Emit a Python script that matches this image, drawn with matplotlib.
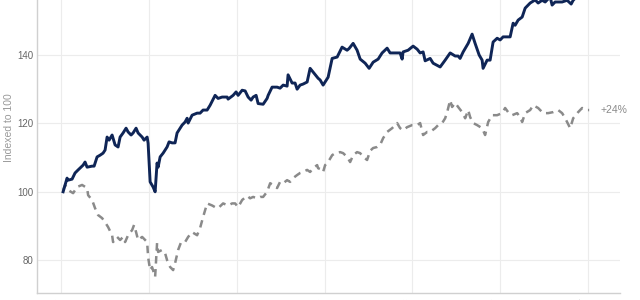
import numpy as np
import matplotlib
matplotlib.use("Agg")
import matplotlib.pyplot as plt

plt.rcParams['font.family'] = ['Liberation Sans', 'DejaVu Sans']

# time in years since start of 2019, values indexed to 100
blue_t = [0.023, 0.068, 0.080, 0.125, 0.159, 0.194, 0.251, 0.273, 0.296, 0.353, 0.376, 0.410,
          0.444, 0.478, 0.501, 0.524, 0.547, 0.581, 0.615, 0.649, 0.672, 0.706, 0.740, 0.763,
          0.797, 0.820, 0.854, 0.877, 0.923, 0.945, 0.980, 0.991, 1.014, 1.048, 1.071, 1.093,
          1.105, 1.128, 1.162, 1.207, 1.230, 1.264, 1.298, 1.321, 1.378, 1.412, 1.435, 1.447,
          1.492, 1.549, 1.583, 1.617, 1.663, 1.697, 1.754, 1.788, 1.834, 1.891, 1.902, 1.959,
          1.993, 2.016, 2.062, 2.096, 2.130, 2.164, 2.187, 2.221, 2.244, 2.301, 2.346, 2.358,
          2.403, 2.460, 2.494, 2.529, 2.574, 2.585, 2.631, 2.665, 2.688, 2.722, 2.756, 2.802,
          2.836, 2.870, 2.927, 2.950, 2.984, 3.041, 3.087, 3.144, 3.200, 3.257, 3.280, 3.326,
          3.371, 3.406, 3.463, 3.508, 3.554, 3.611, 3.656, 3.713, 3.747, 3.804, 3.861, 3.884,
          3.895, 3.952, 4.009, 4.055, 4.089, 4.123, 4.146, 4.203, 4.237, 4.282, 4.317, 4.374,
          4.431, 4.488, 4.522, 4.544, 4.579, 4.636, 4.681, 4.715, 4.761, 4.795, 4.806, 4.852,
          4.886, 4.920, 4.966, 5.000, 5.034, 5.057, 5.114, 5.148, 5.171, 5.205, 5.251, 5.285,
          5.342, 5.399, 5.433, 5.478, 5.513, 5.569, 5.592, 5.626, 5.706, 5.763, 5.809, 5.832,
          5.889, 5.945, 6.014]
blue_v = [100, 104, 103.4, 103.7, 105.5, 106.4, 107.8, 108.7, 107.2, 107.5, 107.5, 110.2,
          110.7, 111.3, 112.2, 116, 115.1, 116.6, 113.7, 113.1, 116, 117.2, 118.6, 117.5,
          116.6, 117.2, 118.6, 117.2, 116, 115.1, 116, 114.2, 102.9, 101.4, 100, 108.4,
          107.2, 110.2, 111.3, 113.1, 114.6, 114.3, 114.3, 117.2, 119.5, 120.4, 121.5, 120.1,
          122.4, 123, 123, 123.9, 123.9, 125.3, 128.2, 127.3, 127.7, 127.7, 127.1, 128.2,
          129.2, 128.2, 129.7, 129.5, 127.7, 126.8, 127.7, 128.2, 125.8, 125.6, 127.3, 128.2,
          130.6, 130.6, 130.3, 131.2, 130.9, 134.2, 131.8, 131.8, 130, 131.2, 131.5, 132.1,
          136.1, 135, 133.2, 132.7, 131.2, 133.5, 139, 139.4, 142.3, 141.4, 141.9, 143.4,
          141.4, 138.8, 137.6, 136.1, 137.9, 138.8, 140.6, 142, 140.6, 140.6, 140.6, 138.8,
          140.9, 141.4, 142.6, 141.7, 140.6, 140.9, 138.3, 139, 137.6, 137, 136.5, 138.5,
          140.6, 139.7, 139.7, 139, 140.9, 143.4, 146.1, 143.4, 140, 138.5, 136.1, 138.5,
          138.5, 143.8, 144.9, 144.4, 145.3, 145.3, 145.3, 149.3, 148.7, 150.2, 151.1, 153.7,
          155.2, 156.1, 155.2, 156, 155.5, 157, 154.6, 155.5, 155.5, 156, 154.9, 156,
          157.5, 158.5, 159]

grey_t = [0.023, 0.046, 0.080, 0.137, 0.182, 0.239, 0.296, 0.308, 0.353, 0.387, 0.421, 0.467,
          0.501, 0.535, 0.581, 0.592, 0.638, 0.672, 0.706, 0.729, 0.763, 0.809, 0.831, 0.854,
          0.877, 0.923, 0.957, 0.980, 0.991, 1.014, 1.036, 1.071, 1.082, 1.093, 1.105, 1.150,
          1.185, 1.207, 1.242, 1.276, 1.298, 1.333, 1.367, 1.412, 1.447, 1.492, 1.549, 1.583,
          1.617, 1.663, 1.720, 1.754, 1.788, 1.845, 1.902, 1.948, 1.982, 2.016, 2.062, 2.119,
          2.153, 2.187, 2.232, 2.267, 2.301, 2.346, 2.381, 2.415, 2.460, 2.494, 2.529, 2.574,
          2.608, 2.642, 2.688, 2.722, 2.756, 2.802, 2.836, 2.870, 2.916, 2.927, 2.973, 2.984,
          3.007, 3.041, 3.087, 3.121, 3.178, 3.212, 3.257, 3.292, 3.326, 3.371, 3.406, 3.440,
          3.485, 3.520, 3.554, 3.599, 3.633, 3.668, 3.713, 3.770, 3.827, 3.861, 3.895, 3.941,
          3.998, 4.055, 4.089, 4.123, 4.169, 4.203, 4.260, 4.294, 4.340, 4.374, 4.397, 4.431,
          4.453, 4.488, 4.522, 4.567, 4.602, 4.636, 4.659, 4.693, 4.738, 4.795, 4.829, 4.864,
          4.909, 4.966, 5.023, 5.057, 5.091, 5.137, 5.194, 5.228, 5.251, 5.285, 5.342, 5.376,
          5.433, 5.490, 5.547, 5.604, 5.661, 5.706, 5.741, 5.798, 5.832, 5.889, 5.934, 5.991,
          6.014]
grey_v = [100.5, 102, 100.5, 99.6, 101.4, 102, 101.1, 99, 97.6, 95.2, 93.2, 92.3,
          91.1, 89.7, 87.3, 85.3, 86.8, 85.9, 86.8, 85.3, 87.3, 88.8, 90.3, 88.2,
          85.9, 86.8, 85.9, 85.3, 80.9, 77.1, 78, 75.1, 80, 85, 82.4, 83,
          82, 80, 78, 77.1, 79.1, 83, 85.3, 85.3, 86.8, 88.2, 87.3, 89.4,
          92.6, 96.6, 96, 95.5, 95.2, 96.6, 96, 96.6, 96.6, 95.5, 97.6, 98.8,
          98.1, 98.5, 98.1, 98.5, 98.5, 100, 102.5, 102, 101.1, 102.9, 102.5, 103.4,
          102.9, 104, 104.9, 105.5, 105.8, 106.4, 105.8, 106.9, 107.8, 106.9, 106.4, 105.8,
          107.8, 108.7, 110.7, 111.3, 111.6, 111.3, 110.2, 108.7, 110.7, 111.6, 111.3, 110.2,
          109.3, 112, 112.8, 113.1, 113.7, 115.7, 117.5, 118.6, 120.1, 118.6, 118, 118.9,
          119.5, 119.5, 120.1, 116.6, 117.5, 117.5, 118.6, 119.5, 120.1, 121.5, 123.3, 126.8,
          124.8, 126, 124.8, 123.3, 121.5, 123.9, 121.8, 120.1, 119.5, 118.6, 116.6, 120.4,
          122.4, 122.4, 123, 124.5, 123.3, 122.4, 123, 121.8, 120.4, 123, 123.9, 125.3,
          124.5, 123, 123, 123.3, 123.9, 123, 121.5, 118.6, 121.5, 123.3, 124.5, 123.9,
          123.9]

start_year = 2019
years = [2019, 2020, 2021, 2022, 2023, 2024, 2025]
grey_label = "+24%"

fig = plt.figure(figsize=(6.4, 3.0), dpi=100)
ax = fig.add_axes([0.058, 0.0233, 0.911, 1.1])

bx = start_year + np.array(blue_t)
gx = start_year + np.array(grey_t)
ax.plot(bx, blue_v, color="#0f2556", lw=2.1, solid_joinstyle="round", zorder=3)
ax.plot(gx, grey_v, color="#8a8a8a", lw=1.8, dashes=(3, 2.2), zorder=2)
ax.text(gx[-1] + 0.13, grey_v[-1], grey_label, color="#8a8a8a", fontsize=7.5,
        va="center", ha="left")

ax.set_xlim(start_year - 0.273, start_year + 6.367)
ax.set_ylim(70.4, 166.9)
ax.set_xticks(years)
ax.set_xticklabels([str(y) for y in years], rotation=45, ha="right", fontsize=7, color="#666666")
ax.set_yticks([80, 100, 120, 140, 160])
ax.tick_params(axis="both", length=0, labelsize=7, labelcolor="#666666")
ax.tick_params(axis="y", pad=3)
ax.set_ylabel("Indexed to 100", fontsize=7.5, color="#999999")
ax.yaxis.set_label_coords(-0.039, 0.5)
ax.grid(True, color="#ececec", lw=0.8)
ax.set_axisbelow(True)
for s in ["top", "right"]:
    ax.spines[s].set_visible(False)
for s in ["left", "bottom"]:
    ax.spines[s].set_color("#d0d0d0")
    ax.spines[s].set_linewidth(1.0)

fig.savefig("out.png", dpi=100)
